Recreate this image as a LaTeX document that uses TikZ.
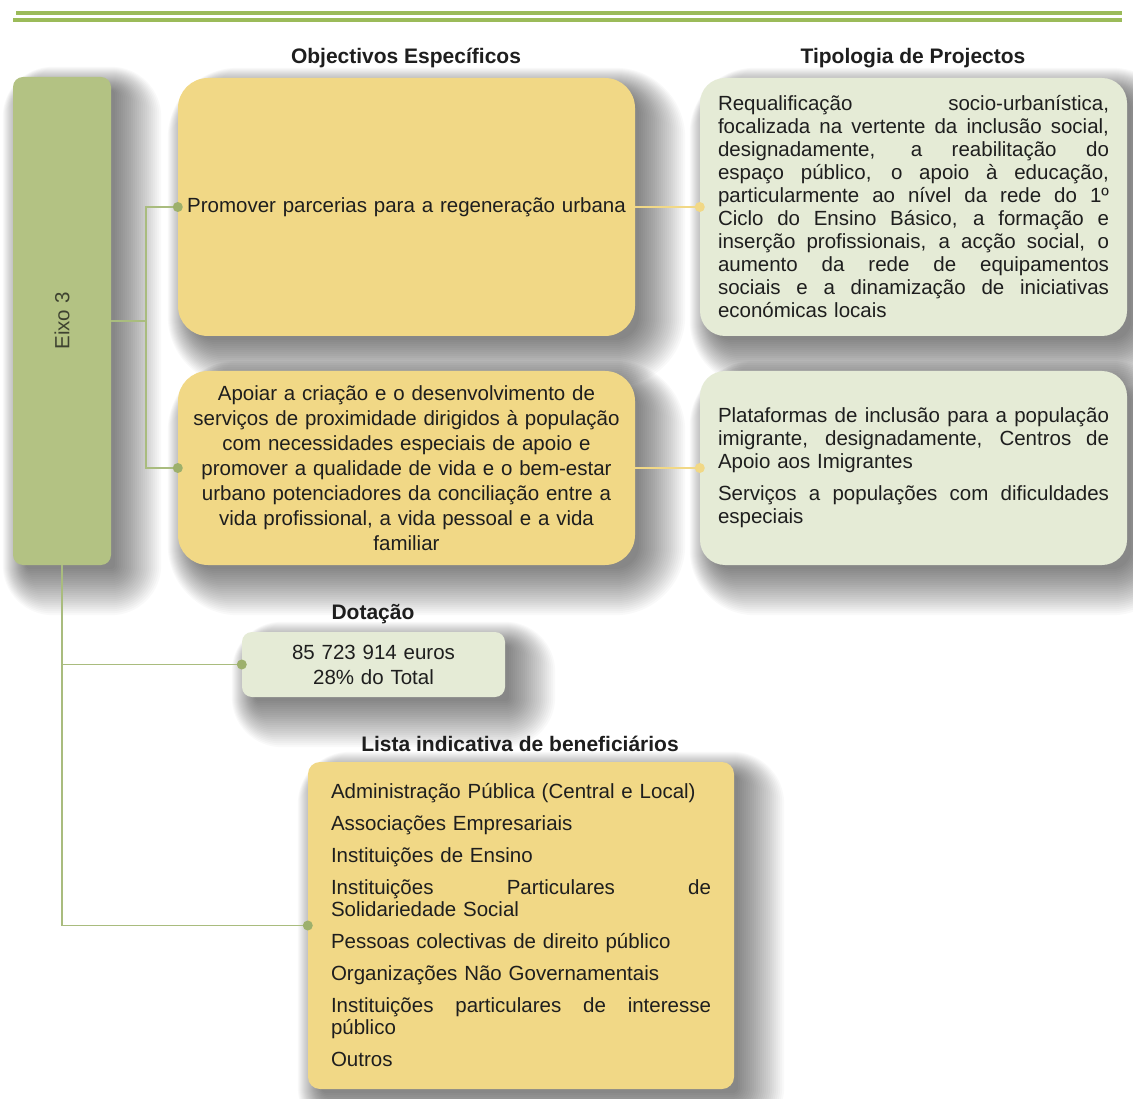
\documentclass[tikz,border=0pt]{standalone}
\usepackage{fontspec}
\setmainfont{Liberation Sans}
\usetikzlibrary{calc}

\definecolor{rulegreen}{HTML}{9BBB59}
\definecolor{eixofill}{HTML}{B3C283}
\definecolor{eixotext}{HTML}{3E4230}
\definecolor{gold}{HTML}{F1D886}
\definecolor{sage}{HTML}{E5EBD6}
\definecolor{linkgreen}{HTML}{A9BC7E}
\definecolor{dotgreen}{HTML}{9DB06C}
\definecolor{ink}{HTML}{1E1E1E}

\newcommand{\bodyfont}{\fontsize{20.5}{23}\selectfont}
% one line stretched to a given width (justified line): spaces get fil stretch
\newcommand{\jst}[2][391pt]{\makebox[#1][s]{%
  \spaceskip=\fontdimen2\font plus 1fil\relax
  \xspaceskip=\fontdimen2\font plus 1fil\relax #2}}

\pgfdeclarelayer{bg}
\pgfsetlayers{bg,main}

% soft drop shadow to the lower right of a named panel:
% stacked translucent rounded rectangles, spreading more to the right and down
\newcommand{\softshadow}[2]{%
  \begin{pgfonlayer}{bg}
  \foreach \e in {-6,-4,...,40} {
    \pgfmathsetmacro{\rr}{max(1,#2+\e)}
    \fill[black, fill opacity=0.025, rounded corners=\rr pt]
      ($(#1.north west)+(10-0.5*\e,10-0.5*\e)$) rectangle ($(#1.south east)+(10+\e,10+\e)$);
  }
  \end{pgfonlayer}}

\tikzset{
  panel/.style={inner sep=0pt, text=ink, font=\bodyfont},
  goldpanel/.style={panel, fill=gold},
  sagepanel/.style={panel, fill=sage},
  heading/.style={font=\fontsize{21}{24}\selectfont\bfseries, text=ink, inner sep=0pt},
  link/.style={draw=linkgreen, line width=1.5pt},
  goldlink/.style={draw=gold, line width=1.5pt},
  gdot/.style={circle, fill=dotgreen, inner sep=0pt, minimum size=10pt},
  ydot/.style={circle, fill=gold, inner sep=0pt, minimum size=10pt},
}

\begin{document}
\begin{tikzpicture}[x=1pt, y=-1pt]
\useasboundingbox (0,0) rectangle (1133,1099);
\begin{pgfonlayer}{bg}
\fill[white] (0,0) rectangle (1133,1099);
\end{pgfonlayer}

% double rule across the top
\draw[rulegreen, line width=3.5pt] (16,13) -- (1122,13);
\draw[rulegreen, line width=3.5pt] (13,20) -- (1122,20);

% headings
\node[heading] (hobj) at (406,58) {Objectivos Específicos};
\node[heading] (htip) at (913,58) {Tipologia de Projectos};
\node[heading] (hdot) at (373,614) {Dotação};
\node[heading] (hlis) at (520,744) {Lista indicativa de beneficiários};

% axis bar
\node[panel, fill=eixofill, rounded corners=10pt,
      minimum width=98pt, minimum height=488pt] (eixo) at (62,321) {};
\node[rotate=90, font=\bodyfont, text=eixotext] (eixolabel) at (eixo.center) {Eixo 3};

% specific objectives
\node[goldpanel, rounded corners=30pt, minimum width=457pt, minimum height=258pt,
      text width=450pt, align=center] (o1) at (406.5,207)
  {Promover parcerias para a regeneração urbana};
\node[goldpanel, rounded corners=30pt, minimum width=457pt, minimum height=194pt,
      text width=450pt, align=center, font=\fontsize{20.5}{25}\selectfont] (o2) at (406.5,468)
  {Apoiar a criação e o desenvolvimento de\\
   serviços de proximidade dirigidos à população\\
   com necessidades especiais de apoio e\\
   promover a qualidade de vida e o bem-estar\\
   urbano potenciadores da conciliação entre a\\
   vida profissional, a vida pessoal e a vida\\
   familiar};

% project types
\node[sagepanel, rounded corners=25pt, minimum width=427pt, minimum height=258pt,
      text width=391pt, align=left] (t1) at (913.5,207)
  {\jst{Requalificação socio-urbanística,}\\
   \jst{focalizada na vertente da inclusão social,}\\
   \jst{designadamente, a reabilitação do}\\
   \jst{espaço público, o apoio à educação,}\\
   \jst{particularmente ao nível da rede do 1º}\\
   \jst{Ciclo do Ensino Básico, a formação e}\\
   \jst{inserção profissionais, a acção social, o}\\
   \jst{aumento da rede de equipamentos}\\
   \jst{sociais e a dinamização de iniciativas}\\
   económicas locais};
\node[sagepanel, rounded corners=25pt, minimum width=427pt, minimum height=194pt,
      text width=391pt, align=left] (t2) at (913.5,468)
  {\jst{Plataformas de inclusão para a população}\\
   \jst{imigrante, designadamente, Centros de}\\
   Apoio aos Imigrantes\\[9pt]
   \jst{Serviços a populações com dificuldades}\\
   especiais};

% allocation
\node[sagepanel, rounded corners=10pt, minimum width=263pt, minimum height=65pt,
      text width=250pt, align=center, font=\fontsize{20.5}{25}\selectfont] (dot) at (373.5,664.5)
  {85 723 914 euros\\28\% do Total};

% beneficiaries
\node[goldpanel, rounded corners=12pt, minimum width=426pt, minimum height=327pt,
      text width=380pt, align=left, font=\fontsize{20.5}{22}\selectfont] (lista) at (521,925.5)
  {Administração Pública (Central e Local)\\[10pt]
   Associações Empresariais\\[10pt]
   Instituições de Ensino\\[10pt]
   \jst[380pt]{Instituições Particulares de}\\
   Solidariedade Social\\[10pt]
   Pessoas colectivas de direito público\\[10pt]
   Organizações Não Governamentais\\[10pt]
   \jst[380pt]{Instituições particulares de interesse}\\
   público\\[10pt]
   Outros};

% shadows under the panels
\softshadow{eixo}{10}
\softshadow{o1}{30}
\softshadow{o2}{30}
\softshadow{t1}{25}
\softshadow{t2}{25}
\softshadow{dot}{10}
\softshadow{lista}{12}

% connectors
\coordinate (fork) at (146,321);
\draw[link] (eixo.east) -- (fork);
\draw[link] (fork) |- (o1.west);
\draw[link] (fork) |- (o2.west);
\draw[link] (eixo.south) |- (dot.west);
\draw[link] (eixo.south) |- (lista.west);
\draw[goldlink] (o1.east) -- (t1.west);
\draw[goldlink] (o2.east) -- (t2.west);

\node[gdot] (d1) at (o1.west) {};
\node[gdot] (d2) at (o2.west) {};
\node[gdot] (d3) at (dot.west) {};
\node[gdot] (d4) at (lista.west) {};
\node[ydot] (d5) at (t1.west) {};
\node[ydot] (d6) at (t2.west) {};
\end{tikzpicture}
\end{document}
